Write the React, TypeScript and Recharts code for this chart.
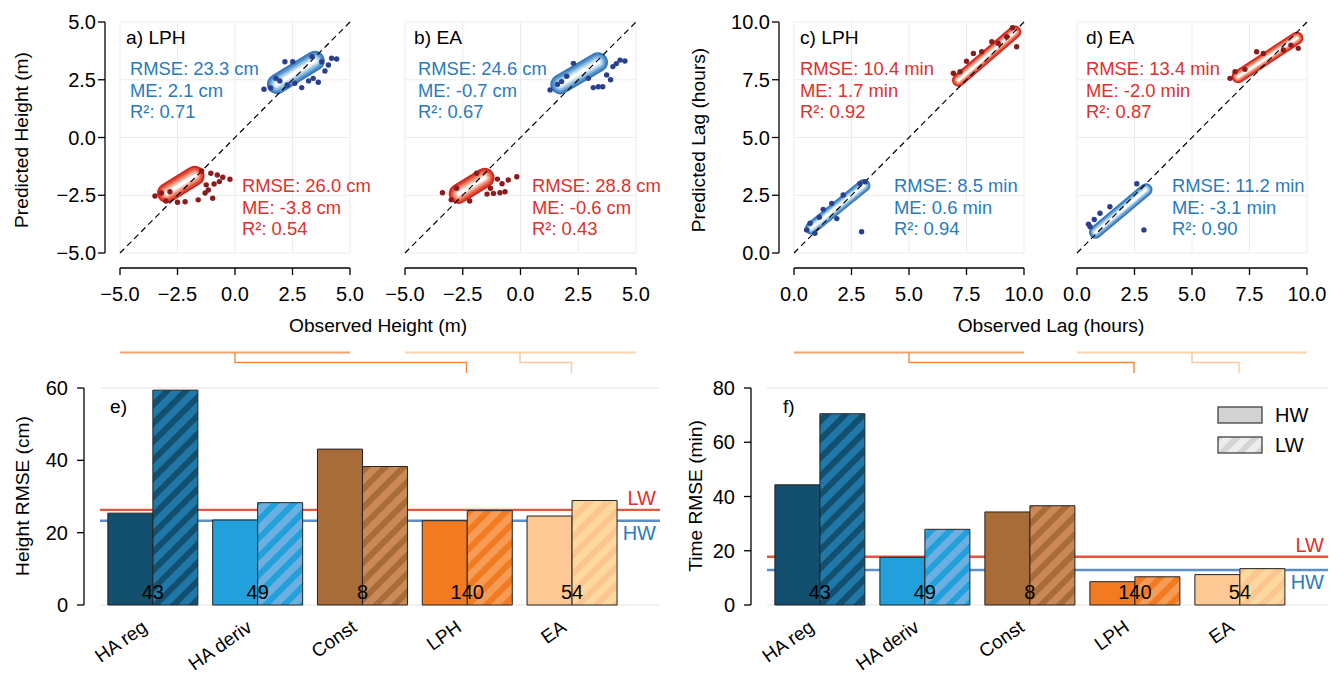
import {
  Bar,
  BarChart,
  CartesianGrid,
  Cell,
  ComposedChart,
  LabelList,
  Legend,
  ReferenceLine,
  Scatter,
  XAxis,
  YAxis,
} from "recharts";

const FONT = "'Liberation Sans', Arial, Helvetica, sans-serif";
const TICK_FS = 20;
const STAT_FS = 18.4;
const TITLE_FS = 19.2;
const CAT_FS = 19;
const BLUE_TXT = "#2b7bba";
const RED_TXT = "#e0302b";

type Pt = { x: number; y: number };

// ---------- scatter panels (a-d) ----------
const heightTicks = [-5, -2.5, 0, 2.5, 5];
const lagTicks = [0, 2.5, 5, 7.5, 10];

// a) LPH height
const aHwCore: Pt[] = [{ x: 1.82, y: 2.31 }, { x: 3.47, y: 3.32 }];
const aHwDots: Pt[] = [
  { x: 1.26, y: 2.09 }, { x: 2.17, y: 3.28 }, { x: 2.51, y: 3.28 }, { x: 1.78, y: 2.56 },
  { x: 2.27, y: 2.27 }, { x: 2.9, y: 2.16 }, { x: 3.4, y: 2.56 }, { x: 3.62, y: 2.39 },
  { x: 3.91, y: 2.88 }, { x: 4.2, y: 3.43 }, { x: 4.42, y: 3.4 }, { x: 4.06, y: 3.14 },
  { x: 3.77, y: 3.28 }, { x: 1.95, y: 2.45 }, { x: 3.2, y: 2.45 }, { x: 1.55, y: 2.15 },
  { x: 3.35, y: 3.5 }, { x: 2.6, y: 2.35 },
];
const aLwCore: Pt[] = [{ x: -2.96, y: -2.4 }, { x: -1.75, y: -1.66 }];
const aLwDots: Pt[] = [
  { x: -3.48, y: -2.53 }, { x: -0.77, y: -1.62 }, { x: -0.53, y: -1.72 }, { x: -0.22, y: -1.81 },
  { x: -0.91, y: -2.01 }, { x: -0.68, y: -1.91 }, { x: -0.97, y: -2.63 }, { x: -1.6, y: -2.7 },
  { x: -2.17, y: -2.78 }, { x: -2.83, y: -2.35 }, { x: -3.2, y: -2.4 }, { x: -1.16, y: -2.27 },
  { x: -1.3, y: -2.4 }, { x: -1.05, y: -1.55 }, { x: -1.25, y: -2.05 }, { x: -3.0, y: -2.75 },
  { x: -1.45, y: -1.45 }, { x: -2.5, y: -2.8 },
];

// b) EA height
const bHwCore: Pt[] = [{ x: 1.72, y: 2.3 }, { x: 3.36, y: 3.26 }];
const bHwDots: Pt[] = [
  { x: 1.28, y: 2.06 }, { x: 1.78, y: 2.42 }, { x: 3.37, y: 2.2 }, { x: 3.56, y: 2.2 },
  { x: 4.31, y: 3.35 }, { x: 4.52, y: 3.31 }, { x: 4.0, y: 3.07 }, { x: 3.73, y: 2.71 },
  { x: 2.29, y: 3.21 }, { x: 2.94, y: 2.56 }, { x: 3.15, y: 2.16 }, { x: 1.6, y: 2.3 },
  { x: 3.9, y: 2.5 }, { x: 2.0, y: 2.65 }, { x: 4.15, y: 3.2 },
];
const bLwCore: Pt[] = [{ x: -2.68, y: -2.44 }, { x: -1.55, y: -1.74 }];
const bLwDots: Pt[] = [
  { x: -3.38, y: -2.39 }, { x: -0.16, y: -1.7 }, { x: -0.53, y: -1.84 }, { x: -0.89, y: -2.39 },
  { x: -1.17, y: -2.42 }, { x: -1.45, y: -2.45 }, { x: -2.77, y: -2.2 }, { x: -0.8, y: -2.0 },
  { x: -0.67, y: -2.35 }, { x: -3.0, y: -2.7 }, { x: -1.0, y: -1.8 }, { x: -1.3, y: -2.2 },
  { x: -2.2, y: -2.75 }, { x: -1.9, y: -1.55 },
];

// c) LPH lag
const cHwCore: Pt[] = [{ x: 0.76, y: 1.08 }, { x: 3.04, y: 2.92 }];
const cHwDots: Pt[] = [
  { x: 2.94, y: 0.92 }, { x: 0.55, y: 1.0 }, { x: 0.7, y: 1.29 }, { x: 1.27, y: 1.89 },
  { x: 1.64, y: 2.15 }, { x: 2.14, y: 2.51 }, { x: 2.87, y: 3.01 }, { x: 3.09, y: 3.08 },
  { x: 0.91, y: 0.85 }, { x: 1.86, y: 1.49 }, { x: 1.1, y: 1.55 },
];
const cLwCore: Pt[] = [{ x: 7.15, y: 7.48 }, { x: 9.6, y: 9.57 }];
const cLwDots: Pt[] = [
  { x: 7.8, y: 8.64 }, { x: 8.16, y: 8.71 }, { x: 8.6, y: 9.15 }, { x: 8.88, y: 9.08 },
  { x: 6.93, y: 7.78 }, { x: 7.22, y: 7.85 }, { x: 9.68, y: 8.93 }, { x: 9.25, y: 9.36 },
  { x: 7.5, y: 8.3 }, { x: 9.5, y: 9.75 },
];

// d) EA lag
const dHwCore: Pt[] = [{ x: 0.8, y: 0.9 }, { x: 3.0, y: 2.74 }];
const dHwDots: Pt[] = [
  { x: 2.91, y: 1.0 }, { x: 0.57, y: 1.14 }, { x: 1.0, y: 1.72 }, { x: 1.43, y: 2.0 },
  { x: 0.5, y: 1.25 }, { x: 0.75, y: 1.45 }, { x: 2.6, y: 3.0 },
];
const dLwCore: Pt[] = [{ x: 7.0, y: 7.63 }, { x: 9.56, y: 9.3 }];
const dLwDots: Pt[] = [
  { x: 7.81, y: 8.71 }, { x: 6.87, y: 7.85 }, { x: 6.65, y: 7.56 }, { x: 8.97, y: 8.79 },
  { x: 9.62, y: 8.86 }, { x: 8.1, y: 8.64 }, { x: 7.3, y: 7.95 }, { x: 9.3, y: 9.0 },
];

const statsA = {
  hw: ["RMSE: 23.3 cm", "ME: 2.1 cm", "R²: 0.71"],
  lw: ["RMSE: 26.0 cm", "ME: -3.8 cm", "R²: 0.54"],
};
const statsB = {
  hw: ["RMSE: 24.6 cm", "ME: -0.7 cm", "R²: 0.67"],
  lw: ["RMSE: 28.8 cm", "ME: -0.6 cm", "R²: 0.43"],
};
const statsC = {
  lw: ["RMSE: 10.4 min", "ME: 1.7 min", "R²: 0.92"],
  hw: ["RMSE: 8.5 min", "ME: 0.6 min", "R²: 0.94"],
};
const statsD = {
  lw: ["RMSE: 13.4 min", "ME: -2.0 min", "R²: 0.87"],
  hw: ["RMSE: 11.2 min", "ME: -3.1 min", "R²: 0.90"],
};

// ---------- bar panels (e, f) ----------
const methods = ["HA reg", "HA deriv", "Const", "LPH", "EA"];
const stationCounts = [43, 49, 8, 140, 54];
const heightHW = [25.4, 23.5, 43.1, 23.3, 24.6];
const heightLW = [59.4, 28.3, 38.3, 26.1, 28.9];
const timeHW = [44.3, 17.6, 34.3, 8.6, 11.2];
const timeLW = [70.5, 27.9, 36.6, 10.4, 13.4];
const heightTicksE = [0, 20, 40, 60];
const timeTicksF = [0, 20, 40, 60, 80];
const heightRef = { hw: 23.3, lw: 26.3 };
const timeRef = { hw: 12.9, lw: 17.8 };

const hwColors = ["#134f6e", "#22a0dc", "#a76c38", "#f27b22", "#fdc894"];
const lwBase = ["#2078a8", "#6cb0e2", "#cc8856", "#f79c54", "#fed89e"];
const lwStripe = ["#134f6e", "#22a0dc", "#a76c38", "#f27b22", "#fcc68f"];

const BLUE_LAYERS = ["#3a78bb", "#5795cf", "#8bbde2", "#c6e0f2", "#ffffff"];
const RED_LAYERS = ["#cf2a22", "#e44d38", "#f2846a", "#fbbfac", "#ffffff"];
const WIDE = [20, 16, 12, 8, 4];
const NARROW = [13, 10, 7.5, 5, 2.5];
const BLUE_DOT = "#2b3f8f";
const RED_DOT = "#8c1c1c";

const fmtTick = (v: number) => (v < 0 ? "\u2212" : "") + Math.abs(v).toFixed(1);

type Cloud = { core: Pt[]; dots: Pt[]; layers: string[]; widths: number[]; dot: string };

function ScatterPanel(props: {
  left: number;
  width: number;
  marginLeft: number;
  marginRight: number;
  yWidth: number;
  ticks: number[];
  clouds: Cloud[];
}) {
  const { left, width, marginLeft, marginRight, yWidth, ticks, clouds } = props;
  const lo = ticks[0];
  const hi = ticks[ticks.length - 1];
  const axisStyle = { fill: "#000", fontSize: TICK_FS, fontFamily: FONT };
  return (
    <div style={{ position: "absolute", left, top: 0 }}>
      <ComposedChart
        width={width}
        height={340}
        margin={{ top: 22, right: marginRight, bottom: 27, left: marginLeft }}
      >
        <CartesianGrid stroke="#ececec" />
        <XAxis
          type="number"
          dataKey="x"
          domain={[lo, hi]}
          ticks={ticks}
          interval={0}
          tickFormatter={fmtTick}
          height={60}
          tickSize={7}
          tickMargin={27}
          axisLine={{ stroke: "#000", strokeWidth: 1.3, transform: "translate(0,15)" }}
          tickLine={{ stroke: "#000", strokeWidth: 1.3, transform: "translate(0,15)" }}
          tick={axisStyle}
        />
        <YAxis
          type="number"
          dataKey="y"
          domain={[lo, hi]}
          ticks={ticks}
          interval={0}
          hide={yWidth === 0}
          width={yWidth || 60}
          tickFormatter={fmtTick}
          tickSize={7}
          tickMargin={17}
          axisLine={{ stroke: "#000", strokeWidth: 1.3, transform: "translate(-15,0)" }}
          tickLine={{ stroke: "#000", strokeWidth: 1.3, transform: "translate(-15,0)" }}
          tick={axisStyle}
        />
        {clouds.map((c, ci) =>
          c.widths.map((w, li) => (
            <ReferenceLine
              key={`core-${ci}-${li}`}
              segment={c.core}
              stroke={c.layers[li]}
              strokeWidth={w}
              strokeLinecap="round"
            />
          ))
        )}
        {clouds.map((c, ci) => (
          <Scatter
            key={`dots-${ci}`}
            data={c.dots}
            fill={c.dot}
            isAnimationActive={false}
            shape={(p: any) => <circle cx={p.cx} cy={p.cy} r={2.7} fill={c.dot} />}
          />
        ))}
        <ReferenceLine
          segment={[{ x: lo, y: lo }, { x: hi, y: hi }]}
          stroke="#000"
          strokeWidth={1.2}
          strokeDasharray="6 4"
        />
      </ComposedChart>
    </div>
  );
}

function MethodTick({ x, y, payload }: any) {
  const tx = x - 4;
  const ty = y + 25;
  return (
    <text
      x={tx}
      y={ty}
      transform={`rotate(-35 ${tx} ${ty})`}
      textAnchor="end"
      fontSize={CAT_FS}
      fontFamily={FONT}
      fill="#000"
    >
      {payload.value}
    </text>
  );
}

function RmsePanel(props: {
  id: string;
  left: number;
  yWidth: number;
  marginRight: number;
  shift: number;
  hw: number[];
  lw: number[];
  yTicks: number[];
  refs: { hw: number; lw: number };
  legend?: boolean;
}) {
  const { id, left, yWidth, marginRight, shift, hw, lw, yTicks, refs, legend } = props;
  const rows = methods.map((name, i) => ({ name, hw: hw[i], lw: lw[i], n: stationCounts[i] }));
  const axisLine = { stroke: "#000", strokeWidth: 1.3, transform: `translate(${-shift},0)` };
  const yMax = yTicks[yTicks.length - 1];
  const common = {
    width: 665,
    height: 306,
    data: rows,
    margin: { top: 18, right: marginRight, bottom: 11, left: 0 },
    barCategoryGap: "7.5%",
    barGap: 0,
  };
  const xAxisProps = {
    dataKey: "name",
    axisLine: false,
    tickLine: false,
    tickSize: 0,
    tickMargin: 0,
    height: 60,
    interval: 0,
    padding: { left: 0, right: 36 },
  };
  return (
    <div style={{ position: "absolute", left, top: 370, width: 665, height: 306 }}>
      {/* back layer: grid and the HW/LW reference levels, kept under the bars */}
      <div style={{ position: "absolute", left: 0, top: 0 }}>
        <BarChart {...common}>
          <CartesianGrid vertical={false} stroke="#e2e2e2" />
          <XAxis {...(xAxisProps as any)} tick={false} />
          <YAxis
            domain={[0, yMax]}
            ticks={yTicks}
            interval={0}
            width={yWidth}
            axisLine={false}
            tickLine={false}
            tick={false}
          />
          <Bar dataKey="hw" fill="none" stroke="none" isAnimationActive={false} />
          <Bar dataKey="lw" fill="none" stroke="none" isAnimationActive={false} />
          <ReferenceLine
            y={refs.lw}
            stroke="#e8553d"
            strokeWidth={2.4}
            label={(p: any) => (
              <text
                x={p.viewBox.x + p.viewBox.width - 4}
                y={p.viewBox.y - 5}
                textAnchor="end"
                fontSize={TICK_FS}
                fontFamily={FONT}
                fill={RED_TXT}
              >
                LW
              </text>
            )}
          />
          <ReferenceLine
            y={refs.hw}
            stroke="#5b8fc9"
            strokeWidth={2.4}
            label={(p: any) => (
              <text
                x={p.viewBox.x + p.viewBox.width - 4}
                y={p.viewBox.y + 19}
                textAnchor="end"
                fontSize={TICK_FS}
                fontFamily={FONT}
                fill={BLUE_TXT}
              >
                HW
              </text>
            )}
          />
        </BarChart>
      </div>
      {/* front layer: bars, axes, counts, legend */}
      <div style={{ position: "absolute", left: 0, top: 0 }}>
        <BarChart {...common}>
          <defs>
            {methods.map((m, i) => (
              <pattern
                key={m}
                id={`${id}-hatch-${i}`}
                patternUnits="userSpaceOnUse"
                width={13}
                height={13}
                patternTransform="rotate(45)"
              >
                <rect width={13} height={13} fill={lwBase[i]} />
                <rect width={6} height={13} fill={lwStripe[i]} />
              </pattern>
            ))}
            <pattern
              id={`${id}-hatch-legend`}
              patternUnits="userSpaceOnUse"
              width={13}
              height={13}
              patternTransform="rotate(45)"
            >
              <rect width={13} height={13} fill="#ededed" />
              <rect width={6} height={13} fill="#d4d4d4" />
            </pattern>
          </defs>
          <XAxis {...(xAxisProps as any)} tick={<MethodTick />} />
          <YAxis
            domain={[0, yMax]}
            ticks={yTicks}
            interval={0}
            width={yWidth}
            tickSize={7}
            tickMargin={25}
            axisLine={axisLine}
            tickLine={axisLine}
            tick={{ fill: "#000", fontSize: TICK_FS, fontFamily: FONT }}
          />
          <Bar dataKey="hw" stroke="#222" strokeWidth={1} isAnimationActive={false}>
            {rows.map((r, i) => (
              <Cell key={r.name} fill={hwColors[i]} />
            ))}
          </Bar>
          <Bar dataKey="lw" stroke="#222" strokeWidth={1} isAnimationActive={false}>
            {rows.map((r, i) => (
              <Cell key={r.name} fill={`url(#${id}-hatch-${i})`} />
            ))}
            <LabelList
              dataKey="n"
              content={(p: any) => (
                <text
                  x={p.x}
                  y={p.y + p.height - 6}
                  textAnchor="middle"
                  fontSize={TICK_FS}
                  fontFamily={FONT}
                  fill="#000"
                >
                  {p.value}
                </text>
              )}
            />
          </Bar>
          {legend && (
            <Legend
              layout="vertical"
              align="center"
              verticalAlign="middle"
              wrapperStyle={{ left: 552, top: 30, width: 110 }}
              content={() => (
                <div style={{ fontFamily: FONT, fontSize: TICK_FS }}>
                  {["HW", "LW"].map((k, i) => (
                    <div key={k} style={{ display: "flex", alignItems: "center", height: 30 }}>
                      <svg width={48} height={20}>
                        <rect
                          x={1}
                          y={2}
                          width={44}
                          height={16}
                          fill={i === 0 ? "#d3d3d3" : `url(#${id}-hatch-legend)`}
                          stroke="#333"
                          strokeWidth={1.2}
                        />
                      </svg>
                      <span style={{ marginLeft: 10 }}>{k}</span>
                    </div>
                  ))}
                </div>
              )}
            />
          )}
        </BarChart>
      </div>
    </div>
  );
}

function StatBlock({ x, y, lines, color }: { x: number; y: number; lines: string[]; color: string }) {
  return (
    <>
      {lines.map((t, i) => (
        <text key={t} x={x} y={y + i * 21.7} fill={color} fontSize={STAT_FS} fontFamily={FONT}>
          {t}
        </text>
      ))}
    </>
  );
}

export default function App() {
  const txt = { fontSize: TITLE_FS, fontFamily: FONT, fill: "#000" };
  return (
    <div
      style={{
        position: "absolute",
        left: 0,
        top: 0,
        width: 1330,
        height: 676,
        background: "#fff",
        overflow: "hidden",
      }}
    >
      <ScatterPanel
        left={0}
        width={375}
        marginLeft={0}
        marginRight={25}
        yWidth={120}
        ticks={heightTicks}
        clouds={[
          { core: aHwCore, dots: aHwDots, layers: BLUE_LAYERS, widths: WIDE, dot: BLUE_DOT },
          { core: aLwCore, dots: aLwDots, layers: RED_LAYERS, widths: WIDE, dot: RED_DOT },
        ]}
      />
      <ScatterPanel
        left={380}
        width={280}
        marginLeft={25}
        marginRight={24}
        yWidth={0}
        ticks={heightTicks}
        clouds={[
          { core: bHwCore, dots: bHwDots, layers: BLUE_LAYERS, widths: WIDE, dot: BLUE_DOT },
          { core: bLwCore, dots: bLwDots, layers: RED_LAYERS, widths: WIDE, dot: RED_DOT },
        ]}
      />
      <ScatterPanel
        left={665}
        width={380}
        marginLeft={0}
        marginRight={21}
        yWidth={129}
        ticks={lagTicks}
        clouds={[
          { core: cHwCore, dots: cHwDots, layers: BLUE_LAYERS, widths: NARROW, dot: BLUE_DOT },
          { core: cLwCore, dots: cLwDots, layers: RED_LAYERS, widths: NARROW, dot: RED_DOT },
        ]}
      />
      <ScatterPanel
        left={1045}
        width={285}
        marginLeft={32}
        marginRight={23}
        yWidth={0}
        ticks={lagTicks}
        clouds={[
          { core: dHwCore, dots: dHwDots, layers: BLUE_LAYERS, widths: NARROW, dot: BLUE_DOT },
          { core: dLwCore, dots: dLwDots, layers: RED_LAYERS, widths: NARROW, dot: RED_DOT },
        ]}
      />

      <RmsePanel
        id="e"
        left={0}
        yWidth={100}
        marginRight={5}
        shift={16}
        hw={heightHW}
        lw={heightLW}
        yTicks={heightTicksE}
        refs={heightRef}
      />
      <RmsePanel
        id="f"
        left={665}
        yWidth={102}
        marginRight={2}
        shift={16}
        hw={timeHW}
        lw={timeLW}
        yTicks={timeTicksF}
        refs={timeRef}
        legend
      />

      <svg
        width={1330}
        height={676}
        style={{ position: "absolute", left: 0, top: 0, pointerEvents: "none" }}
      >
        {/* axis titles */}
        <text {...txt} x={0} y={0} textAnchor="middle" transform="translate(28 140) rotate(-90)">
          Predicted Height (m)
        </text>
        <text {...txt} x={0} y={0} textAnchor="middle" transform="translate(705 140) rotate(-90)">
          Predicted Lag (hours)
        </text>
        <text {...txt} x={0} y={0} textAnchor="middle" transform="translate(29 496) rotate(-90)">
          Height RMSE (cm)
        </text>
        <text {...txt} x={0} y={0} textAnchor="middle" transform="translate(702 496) rotate(-90)">
          Time RMSE (min)
        </text>
        <text {...txt} x={378} y={332} textAnchor="middle">
          Observed Height (m)
        </text>
        <text {...txt} x={1051} y={332} textAnchor="middle">
          Observed Lag (hours)
        </text>

        {/* panel letters */}
        <text {...txt} x={126} y={44}>a) LPH</text>
        <text {...txt} x={414} y={44}>b) EA</text>
        <text {...txt} x={800} y={44}>c) LPH</text>
        <text {...txt} x={1086} y={44}>d) EA</text>
        <text {...txt} x={110} y={413}>e)</text>
        <text {...txt} x={783} y={413}>f)</text>

        <StatBlock x={130} y={75} lines={statsA.hw} color={BLUE_TXT} />
        <StatBlock x={242} y={192} lines={statsA.lw} color={RED_TXT} />
        <StatBlock x={418} y={75} lines={statsB.hw} color={BLUE_TXT} />
        <StatBlock x={532} y={192} lines={statsB.lw} color={RED_TXT} />
        <StatBlock x={800} y={75} lines={statsC.lw} color={RED_TXT} />
        <StatBlock x={894} y={192} lines={statsC.hw} color={BLUE_TXT} />
        <StatBlock x={1086} y={75} lines={statsD.lw} color={RED_TXT} />
        <StatBlock x={1172} y={192} lines={statsD.hw} color={BLUE_TXT} />

        {/* connectors from scatter panels to the matching bars */}
        <g fill="none">
          <path d="M120 352.5 H350" stroke="#f5a46c" strokeWidth={2.2} />
          <path d="M235 352.5 V362.5 H466.5 V373" stroke="#f28a3c" strokeWidth={1.4} />
          <path d="M405 352.5 H636" stroke="#fdd4ac" strokeWidth={2.2} />
          <path d="M520 352.5 V362.5 H571.5 V373" stroke="#fcc89b" strokeWidth={1.4} />
          <path d="M794 352.5 H1024" stroke="#f5a46c" strokeWidth={2.2} />
          <path d="M909 352.5 V362.5 H1134 V373" stroke="#f28a3c" strokeWidth={1.4} />
          <path d="M1077 352.5 H1307" stroke="#fdd4ac" strokeWidth={2.2} />
          <path d="M1192 352.5 V362.5 H1239 V373" stroke="#fcc89b" strokeWidth={1.4} />
        </g>
      </svg>
    </div>
  );
}
